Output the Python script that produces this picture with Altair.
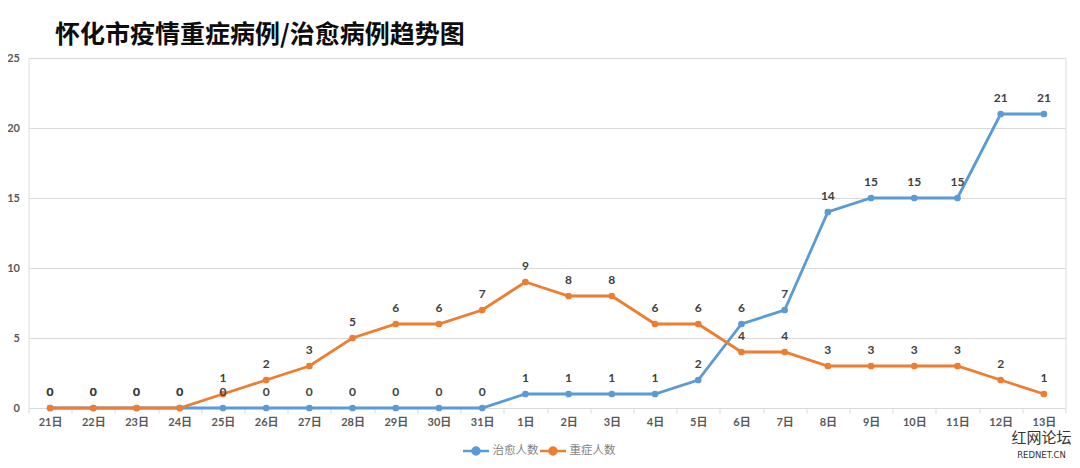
import altair as alt
import pandas as pd

days = ["21日", "22日", "23日", "24日", "25日", "26日", "27日", "28日", "29日", "30日", "31日",
        "1日", "2日", "3日", "4日", "5日", "6日", "7日", "8日", "9日", "10日", "11日", "12日", "13日"]
cured = [0, 0, 0, 0, 0, 0, 0, 0, 0, 0, 0, 1, 1, 1, 1, 2, 6, 7, 14, 15, 15, 15, 21, 21]
severe = [0, 0, 0, 0, 1, 2, 3, 5, 6, 6, 7, 9, 8, 8, 6, 6, 4, 4, 3, 3, 3, 3, 2, 1]
series_names = ["治愈人数", "重症人数"]
series_colors = ["#5B9BD5", "#ED7D31"]
y_ticks = [0, 5, 10, 15, 20, 25]
title_text = "怀化市疫情重症病例/治愈病例趋势图"

rows = []
for name, vals in zip(series_names, [cured, severe]):
    for d, v in zip(days, vals):
        rows.append({"day": d, "series": name, "value": v})
df = pd.DataFrame(rows)

CJK = "Noto Sans CJK SC"
NUM = "Lato, Noto Sans CJK SC"

legend_path = ("M-1,0L1,0M-0.27,0A0.27,0.27,0,1,1,0.27,0"
               "A0.27,0.27,0,1,1,-0.27,0Z")

legend = alt.Legend(
    title=None, orient="none", direction="horizontal",
    legendX=433, legendY=378, padding=0,
    symbolType=legend_path, symbolSize=676, symbolStrokeWidth=2.5,
    labelFont=CJK, labelFontSize=11.5, labelColor="#7f7f7f",
    labelOffset=2, columnPadding=-16,
)

x = alt.X(
    "day:N", sort=days,
    scale=alt.Scale(type="band", paddingInner=0, paddingOuter=0),
    axis=alt.Axis(title=None, labelAngle=0, tickBand="extent", grid=False,
                  domainColor="#D9D9D9", tickColor="#D9D9D9", tickSize=5,
                  labelPadding=3, labelFont=NUM, labelFontSize=11,
                  labelFontWeight="bold", labelColor="#595959"),
)
y = alt.Y(
    "value:Q",
    scale=alt.Scale(domain=[0, 25], nice=False),
    axis=alt.Axis(title=None, values=y_ticks, grid=True, gridColor="#D9D9D9",
                  domain=False, ticks=False, labelPadding=9, labelFont=NUM,
                  labelFontSize=11, labelFontWeight="bold", labelColor="#595959"),
)

cscale = alt.Scale(domain=series_names, range=series_colors)

base = alt.Chart(df).encode(x=x, y=y)

lines = base.mark_line(strokeWidth=2.8).encode(
    color=alt.Color("series:N", scale=cscale, legend=legend))
points = base.mark_point(filled=True, size=45, opacity=1).encode(
    color=alt.Color("series:N", scale=cscale, legend=legend))
labels = base.mark_text(dy=-16, fontSize=12, fontWeight="bold", font=NUM,
                        color="#404040").encode(text="value:Q")

wm1 = alt.Chart(pd.DataFrame({"t": ["红网论坛"]})).mark_text(
    font=CJK, fontSize=15, color="#333333", align="center"
).encode(x=alt.value(1013), y=alt.value(380), text="t:N")
wm2 = alt.Chart(pd.DataFrame({"t": ["REDNET.CN"]})).mark_text(
    font="DejaVu Sans", fontSize=8.5, color="#333333", align="center"
).encode(x=alt.value(1013), y=alt.value(397), text="t:N")

chart = alt.layer(lines, points, labels, wm1, wm2).properties(
    width=1037, height=350,
    autosize=alt.AutoSizeParams(type="none"),
    padding={"left": 20.5, "top": 50, "right": 6.5, "bottom": 52},
    title=alt.TitleParams(title_text, anchor="start", frame="group", dx=26.5,
                          offset=4, font=CJK, fontSize=25, fontWeight="bold",
                          color="#0d0d0d"),
).configure_view(stroke=None).configure(background="white")

chart.save("out.html", embed_options={"renderer": "svg", "actions": False})
